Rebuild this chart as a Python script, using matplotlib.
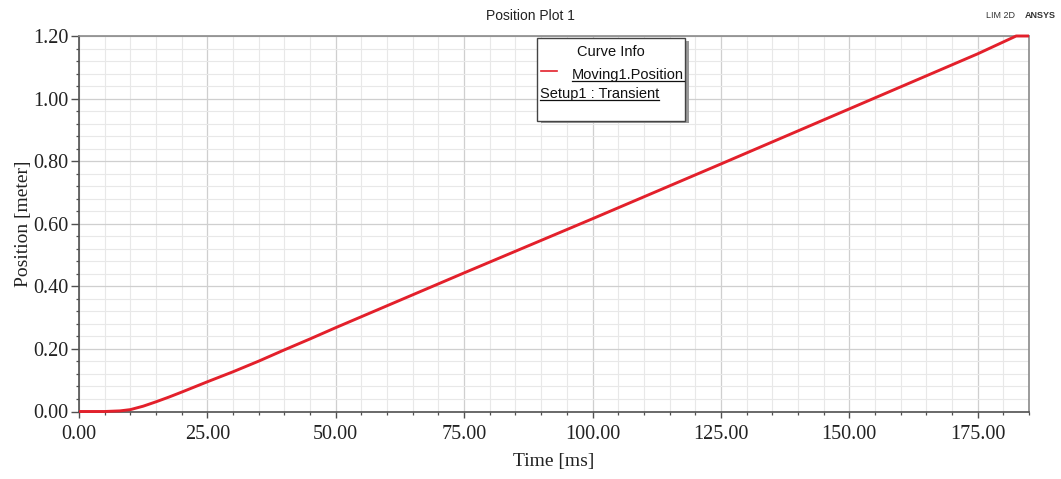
import matplotlib
matplotlib.use("Agg")
import matplotlib.pyplot as plt
from matplotlib.ticker import MultipleLocator, FormatStrFormatter
from matplotlib.patches import Rectangle

# Moving1.Position vs time
time_ms = [0, 5, 8, 10, 12.5, 15, 17.5, 20, 25, 30, 35, 40, 45, 50, 55, 75, 100, 125, 150, 175, 182.5, 185]
position_m = [0, 0, 0.002, 0.006, 0.017, 0.031, 0.046, 0.062, 0.095, 0.127, 0.161, 0.197, 0.232,
              0.268, 0.303, 0.443, 0.616, 0.791, 0.967, 1.143, 1.2, 1.2]

x_ticks = [0, 25, 50, 75, 100, 125, 150, 175]
y_ticks = [0.0, 0.2, 0.4, 0.6, 0.8, 1.0, 1.2]

serif = ["Liberation Serif", "DejaVu Serif"]
sans = ["Liberation Sans", "DejaVu Sans"]

fig = plt.figure(figsize=(10.61, 4.79), dpi=100)
W, H = 1061, 479
ax = fig.add_axes([79 / W, 1 - 411.5 / H, (1029 - 79) / W, (411.5 - 36) / H])

ax.plot(time_ms, position_m, color="#e3202b", lw=2.1, solid_capstyle="butt", zorder=3, clip_on=False)

ax.set_xlim(0, 185)
ax.set_ylim(0, 1.2)
ax.set_xticks(x_ticks)
ax.set_yticks(y_ticks)
ax.xaxis.set_minor_locator(MultipleLocator(5))
ax.yaxis.set_minor_locator(MultipleLocator(0.04))
ax.xaxis.set_major_formatter(FormatStrFormatter("%.2f"))
ax.yaxis.set_major_formatter(FormatStrFormatter("%.2f"))

ax.grid(which="major", color="#cfcfcf", lw=0.9)
ax.grid(which="minor", color="#e8e8e8", lw=0.8)
ax.set_axisbelow(True)

for side in ("left", "bottom"):
    ax.spines[side].set_color("#505050")
    ax.spines[side].set_linewidth(1.2)
for side in ("top", "right"):
    ax.spines[side].set_color("#8a8a8a")
    ax.spines[side].set_linewidth(1.2)

ax.tick_params(axis="x", which="major", length=4, width=1.0, color="#505050", pad=6)
ax.tick_params(axis="y", which="major", length=5.5, width=1.0, color="#505050", pad=2)
ax.tick_params(which="minor", length=2.5, width=0.9, color="#505050")
for lab in ax.get_xticklabels() + ax.get_yticklabels():
    lab.set_family(serif)
    lab.set_fontsize(14.5)
    lab.set_color("#222222")

ax.set_xlabel("Time [ms]", family=serif, fontsize=14, color="#222222", labelpad=6)
ax.set_ylabel("Position [meter]", family=serif, fontsize=14, color="#222222", labelpad=1)

# header texts
fig.text(530 / W, 1 - 16 / H, "Position Plot 1", family=sans, fontsize=10,
         ha="center", va="center", color="#222222")
fig.text(1000 / W, 1 - 16 / H, "LIM 2D", family=sans, fontsize=6.5,
         ha="center", va="center", color="#333333")
fig.text(1040 / W, 1 - 15 / H, "ANSYS", family=sans, fontsize=6.5, fontweight="bold",
         ha="center", va="center", color="#333333")

# Curve Info box with drop shadow
bx0, bx1, by0, by1 = 537.5, 685.5, 38, 120.5
fig.patches.append(Rectangle(((bx0 + 3) / W, 1 - (by1 + 3) / H), (bx1 - bx0) / W, (by1 - by0) / H,
                             transform=fig.transFigure, facecolor="#9a9a9a", edgecolor="none", zorder=4))
fig.patches.append(Rectangle((bx0 / W, 1 - by1 / H), (bx1 - bx0) / W, (by1 - by0) / H,
                             transform=fig.transFigure, facecolor="white", edgecolor="#444444",
                             lw=1.0, zorder=5))
fig.text(611 / W, 1 - 52 / H, "Curve Info", family=sans, fontsize=10.5,
         ha="center", va="center", color="#111111", zorder=6)
fig.lines.append(plt.Line2D([541 / W, 557 / W], [1 - 71 / H, 1 - 71 / H],
                            transform=fig.transFigure, color="#e3202b", lw=1.2, zorder=6))
t1 = fig.text(572 / W, 1 - 75 / H, "Moving1.Position", family=sans, fontsize=10.5,
              ha="left", va="center", color="#111111", zorder=6)
t2 = fig.text(540 / W, 1 - 94 / H, "Setup1 : Transient", family=sans, fontsize=10.5,
              ha="left", va="center", color="#111111", zorder=6)

fig.canvas.draw()
renderer = fig.canvas.get_renderer()
inv = fig.transFigure.inverted()
for t in (t1, t2):
    bb = t.get_window_extent(renderer)
    (x0, y0), (x1, _) = inv.transform([[bb.x0, bb.y0], [bb.x1, bb.y1]])
    fig.lines.append(plt.Line2D([x0, x1], [y0 + 1.5 / H, y0 + 1.5 / H], transform=fig.transFigure,
                                color="#111111", lw=0.9, zorder=6))

fig.savefig("out.png", dpi=100)
